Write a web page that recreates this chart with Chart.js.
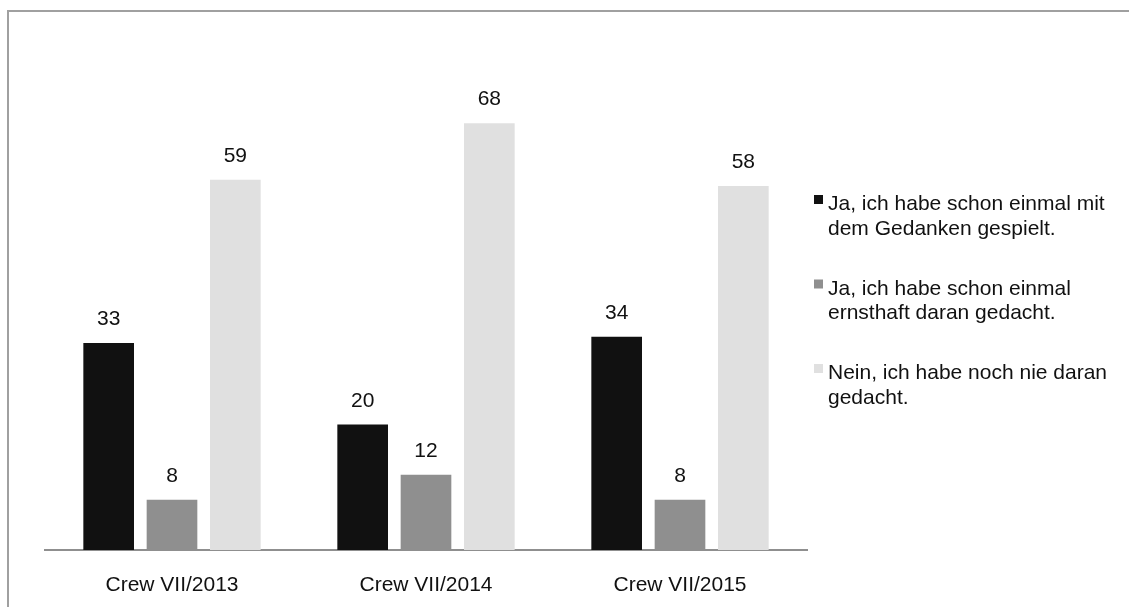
<!DOCTYPE html>
<html>
<head>
<meta charset="utf-8">
<script src="https://cdn.jsdelivr.net/npm/chart.js@4/dist/chart.umd.min.js"></script>
<style>
  html, body { margin: 0; padding: 0; background: #fff; overflow: hidden; }
  #wrap { position: relative; width: 1129px; height: 607px; }
</style>
</head>
<body>
<div id="wrap"><canvas id="chart" width="1129" height="607"></canvas></div>
<script>
const categories = ['Crew VII/2013', 'Crew VII/2014', 'Crew VII/2015'];
const seriesNames = [
  ['Ja, ich habe schon einmal mit', 'dem Gedanken gespielt.'],
  ['Ja, ich habe schon einmal', 'ernsthaft daran gedacht.'],
  ['Nein, ich habe noch nie daran', 'gedacht.'],
];
const spielt = [33, 20, 34];
const ernsthaft = [8, 12, 8];
const nie = [59, 68, 58];
const colors = ['#111111', '#8f8f8f', '#e0e0e0'];

const FONT = '"Liberation Sans", Arial, sans-serif';

// Rahmen oben/links (rechts und unten abgeschnitten)
const framePlugin = {
  id: 'frame',
  beforeDraw(chart) {
    const ctx = chart.ctx;
    ctx.save();
    ctx.strokeStyle = '#a0a0a0';
    ctx.lineWidth = 2;
    ctx.strokeRect(8, 11, 2000, 2000);
    ctx.restore();
  },
};

// Werte über den Balken
const valueLabels = {
  id: 'valueLabels',
  afterDatasetsDraw(chart) {
    const ctx = chart.ctx;
    ctx.save();
    ctx.font = '21px ' + FONT;
    ctx.fillStyle = '#111';
    ctx.textAlign = 'center';
    ctx.textBaseline = 'alphabetic';
    chart.data.datasets.forEach((ds, i) => {
      chart.getDatasetMeta(i).data.forEach((bar, j) => {
        ctx.fillText(String(ds.data[j]), bar.x, bar.y - 18);
      });
    });
    ctx.restore();
  },
};

// Legende rechts mit zweizeiligen Einträgen
const sideLegend = {
  id: 'sideLegend',
  afterDraw(chart) {
    const ctx = chart.ctx;
    ctx.save();
    ctx.font = '21px ' + FONT;
    ctx.textAlign = 'left';
    ctx.textBaseline = 'alphabetic';
    chart.data.datasets.forEach((ds, i) => {
      const base = 210 + i * 84.5;
      ctx.fillStyle = ds.backgroundColor;
      ctx.fillRect(814, base - 15, 9, 9);
      ctx.fillStyle = '#111';
      seriesNames[i].forEach((line, k) => {
        ctx.fillText(line, 828, base + k * 24.5);
      });
    });
    ctx.restore();
  },
};

new Chart(document.getElementById('chart'), {
  type: 'bar',
  data: {
    labels: categories,
    datasets: [spielt, ernsthaft, nie].map((d, i) => ({
      label: seriesNames[i].join(' '),
      data: d,
      backgroundColor: colors[i],
      borderWidth: 0,
      categoryPercentage: 0.748,
      barPercentage: 0.8,
    })),
  },
  options: {
    responsive: false,
    animation: false,
    devicePixelRatio: 1,
    layout: { padding: { left: 45, right: 322, top: 48, bottom: 0 } },
    scales: {
      x: {
        grid: { display: false },
        border: { display: true, color: '#8f8f8f', width: 2 },
        ticks: { color: '#111', padding: 15, font: { family: FONT, size: 21 } },
        afterFit(scale) { scale.height = 57; },
      },
      y: { display: false, min: 0, max: 80 },
    },
    plugins: {
      legend: { display: false },
      tooltip: { enabled: false },
    },
  },
  plugins: [framePlugin, valueLabels, sideLegend],
});
</script>
</body>
</html>
